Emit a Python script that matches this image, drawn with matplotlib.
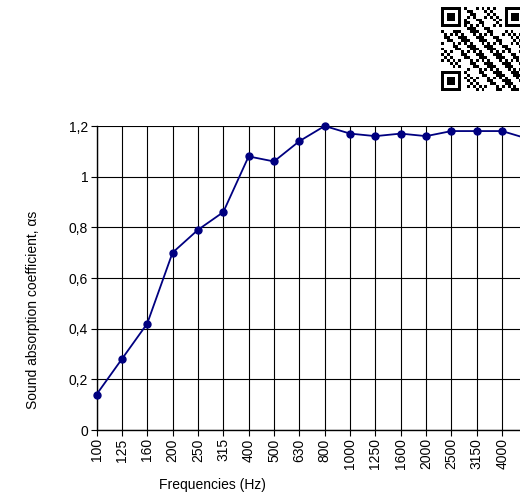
import matplotlib
matplotlib.use("Agg")
import matplotlib.pyplot as plt
import numpy as np

plt.rcParams["font.family"] = ["Liberation Sans", "DejaVu Sans"]

frequencies = ["100", "125", "160", "200", "250", "315", "400", "500", "630",
               "800", "1000", "1250", "1600", "2000", "2500", "3150", "4000", "5000"]
alpha_s = [0.14, 0.28, 0.42, 0.70, 0.79, 0.86, 1.08, 1.06, 1.14,
           1.20, 1.17, 1.16, 1.17, 1.16, 1.18, 1.18, 1.18, 1.15]
y_ticks = [0, 0.2, 0.4, 0.6, 0.8, 1.0, 1.2]
y_tick_labels = ["0", "0,2", "0,4", "0,6", "0,8", "1", "1,2"]


def qr_pattern(n=29):
    """
    Deterministic QR-like decoration (finder squares + masked modules).
    """
    grid = np.zeros((n, n), dtype=int)
    for i in range(n):
        for j in range(n):
            grid[i, j] = ((i * j) % 3 + i + j) % 2 == 0 and (i * 7 + j * 3) % 5 != 0
    for r0, c0 in [(0, 0), (0, n - 7), (n - 7, 0)]:
        grid[max(r0 - 1, 0):r0 + 8, max(c0 - 1, 0):c0 + 8] = 0
        grid[r0:r0 + 7, c0:c0 + 7] = 1
        grid[r0 + 1:r0 + 6, c0 + 1:c0 + 6] = 0
        grid[r0 + 2:r0 + 5, c0 + 2:c0 + 5] = 1
    return grid


fig = plt.figure(figsize=(5.2, 4.97), dpi=100)

W, H = 520, 497
left, right, bottom, top = 96.5, 527.5, 430, 126
ax = fig.add_axes([left / W, (H - bottom) / H, (right - left) / W, (bottom - top) / H])

x = np.arange(len(frequencies))
ax.plot(x, alpha_s, color="#000080", linewidth=1.3, marker="o", markersize=5,
        clip_on=False, zorder=3)

ax.set_xlim(0, len(frequencies) - 1)
ax.set_ylim(0, 1.2)
ax.set_xticks(x)
ax.set_xticklabels(frequencies, rotation=90, fontsize=10)
# the last category sits past the right edge of the picture
ax.get_xticklabels()[-1].set_visible(False)
ax.set_yticks(y_ticks)
ax.set_yticklabels(y_tick_labels, fontsize=10)
ax.grid(True, color="black", linewidth=0.8)
ax.set_axisbelow(True)
for side in ["top", "right"]:
    ax.spines[side].set_visible(False)
ax.spines["left"].set_linewidth(1.0)
ax.spines["bottom"].set_linewidth(1.0)
ax.tick_params(direction="out", length=4, width=0.8, pad=2)

ax.set_xlabel("Frequencies (Hz)", fontsize=10, va="center")
ax.xaxis.set_label_coords((212 - left) / (right - left), (bottom - 485) / (bottom - top))
ax.set_ylabel("Sound absorption coefficient, \u03b1s", fontsize=10, va="center")
ax.yaxis.set_label_coords((33 - left) / (right - left), (bottom - 310) / (bottom - top))

# QR code decoration, top right
qr_ax = fig.add_axes([441 / W, (H - 91) / H, 84 / W, 84 / H])
qr_ax.imshow(qr_pattern(), cmap="gray_r", interpolation="nearest")
qr_ax.axis("off")

fig.savefig("out.png", dpi=100)
